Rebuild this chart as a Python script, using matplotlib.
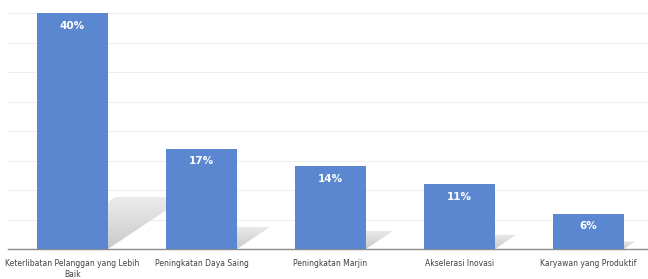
import numpy as np
import matplotlib
matplotlib.use("Agg")
from matplotlib import pyplot as plt
from matplotlib.patches import Polygon

categories = ["Keterlibatan Pelanggan yang Lebih\nBaik", "Peningkatan Daya Saing",
              "Peningkatan Marjin", "Akselerasi Inovasi", "Karyawan yang Produktif"]
values = [40, 17, 14, 11, 6]
labels = ["40%", "17%", "14%", "11%", "6%"]

bar_color = "#5B87D1"
bar_w = 0.55

fig = plt.figure(figsize=(6.48, 2.79), dpi=100)
ax = fig.add_axes([8 / 648, 30 / 279, 645 / 648, 236 / 279])

x = np.arange(len(values))

# soft shadows behind bars (darker at the base, fading upwards)
grad = np.linspace(0.92, 0.79, 64).reshape(-1, 1)
for xi, v in zip(x, values):
    h = 0.22 * v
    shift = 0.0151 * v
    pts = [(xi - bar_w / 2, 0), (xi + bar_w / 2, 0),
           (xi + bar_w / 2 + shift, h), (xi - bar_w / 2 + shift, h)]
    poly = Polygon(pts, closed=True, facecolor="none", edgecolor="none")
    ax.add_patch(poly)
    im = ax.imshow(np.tile(grad, (1, 8)), cmap="gray", vmin=0, vmax=1,
                   extent=[xi - bar_w / 2, xi + bar_w / 2 + shift, 0, h],
                   aspect="auto", zorder=1, interpolation="bilinear")
    im.set_clip_path(poly)

ax.bar(x, values, width=bar_w, color=bar_color, zorder=3)

for xi, v, lab in zip(x, values, labels):
    ax.text(xi, v - 1.3, lab, ha="center", va="top", color="white",
            fontsize=7.5, fontweight="bold", zorder=4)

ax.set_xlim(-0.5, len(values) - 0.5)
ax.set_ylim(0, 40)
ax.set_yticks(np.arange(0, 41, 5))
ax.yaxis.grid(True, color="#eeeeee", lw=0.8)
ax.set_axisbelow(True)
ax.tick_params(axis="y", left=False, labelleft=False)
ax.tick_params(axis="x", bottom=False, pad=4)
ax.set_xticks(x)
ax.set_xticklabels(categories, fontsize=5.5, color="#404040", linespacing=1.25)
for s in ["left", "right", "top"]:
    ax.spines[s].set_visible(False)
ax.spines["bottom"].set_color("#8c8c8c")
ax.spines["bottom"].set_linewidth(1)

fig.savefig("out.png", dpi=100)
